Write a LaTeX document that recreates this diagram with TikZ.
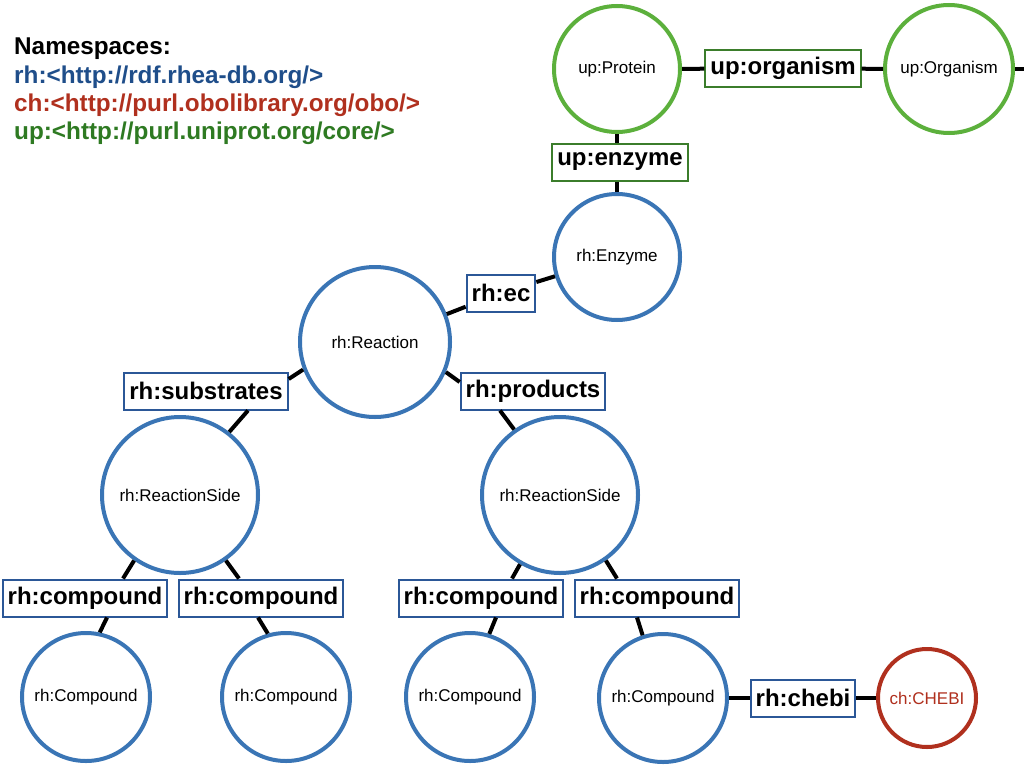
\documentclass[tikz,border=0pt]{standalone}
\usepackage{fontspec}
\setmainfont{Liberation Sans}
\definecolor{cblue}{HTML}{3A75B5}
\definecolor{bblue}{HTML}{2B5797}
\definecolor{tblue}{HTML}{1F4E8A}
\definecolor{cred}{HTML}{B0301E}
\definecolor{cgreen}{HTML}{5CB03C}
\definecolor{bgreen}{HTML}{3B7D2B}
\definecolor{tgreen}{HTML}{2E7A22}
\tikzset{
  cls/.style={circle, draw=cblue, line width=4pt, fill=white, inner sep=0pt,
    font=\fontsize{17}{20}\selectfont},
  gcls/.style={cls, draw=cgreen},
  rcls/.style={cls, draw=cred, text=cred},
  prop/.style={rectangle, draw=bblue, line width=2pt, fill=white, inner xsep=5pt,
    minimum height=37pt, font=\fontsize{24}{28}\selectfont\bfseries},
  gprop/.style={prop, draw=bgreen},
  link/.style={line width=4pt, black},
  ns/.style={anchor=base west, inner sep=0pt, font=\fontsize{24.3}{28}\selectfont\bfseries}
}
\begin{document}
\begin{tikzpicture}[x=1pt,y=-1pt]
\useasboundingbox (0,0) rectangle (1024,768);
% namespaces
\node[ns] (nsh) at (14,55) {Namespaces:};
\node[ns, text=tblue] (nsrh) at (14,83) {rh:<http://rdf.rhea-db.org/>};
\node[ns, text=cred] (nsch) at (14,111) {ch:<http://purl.obolibrary.org/obo/>};
\node[ns, text=tgreen] (nsup) at (14,139) {up:<http://purl.uniprot.org/core/>};
% classes
\node[gcls, minimum size=126pt] (prot) at (617,69) {up:Protein};
\node[gcls, minimum size=128pt] (org) at (949,69) {up:Organism};
\node[cls, minimum size=126pt] (enz) at (617,257) {rh:Enzyme};
\node[cls, minimum size=150pt] (rea) at (375,342) {rh:Reaction};
\node[cls, minimum size=156pt] (rsl) at (180,495) {rh:ReactionSide};
\node[cls, minimum size=156pt] (rsr) at (560,495) {rh:ReactionSide};
\node[cls, minimum size=128pt] (c1) at (86,697) {rh:Compound};
\node[cls, minimum size=128pt] (c2) at (286,697) {rh:Compound};
\node[cls, minimum size=128pt] (c3) at (470,697) {rh:Compound};
\node[cls, minimum size=128pt] (c4) at (663,698) {rh:Compound};
\node[rcls, minimum size=98pt] (chebi) at (927,698) {ch:CHEBI};
\coordinate (edge) at (1024,69);
% properties
\node[gprop] (porg) at (783,68.5) {up:organism};
\node[gprop] (penz) at (620,162) {up:enzyme};
\node[prop] (pec) at (501,293) {rh:ec};
\node[prop] (psub) at (206,391) {rh:substrates};
\node[prop] (pprod) at (533,391) {rh:products};
\node[prop] (pc1) at (85,598) {rh:compound};
\node[prop] (pc2) at (261,598) {rh:compound};
\node[prop] (pc3) at (481,598) {rh:compound};
\node[prop] (pc4) at (657,598) {rh:compound};
\node[prop] (pch) at (803,698) {rh:chebi};
% connectors
\draw[link] (prot) -- (porg);
\draw[link] (porg) -- (org);
\draw[link] (org) -- (edge);
\draw[link] (prot.south) -- (prot.south |- penz.north);
\draw[link] (penz.south -| enz.north) -- (enz.north);
\draw[link] (enz) -- (pec);
\draw[link] (pec) -- (rea);
\draw[link] (rea.201) -- ([yshift=12pt]psub.east);
\draw[link] ([xshift=42pt]psub.south) -- (rsl.52);
\draw[link] (rea.337) -- ([yshift=9pt]pprod.west);
\draw[link] ([xshift=-33pt]pprod.south) -- (rsr.125);
\draw[link] (rsl.235) -- ([xshift=38pt]pc1.north);
\draw[link] ([xshift=22pt]pc1.south) -- (c1.78);
\draw[link] (rsl.305) -- ([xshift=-22pt]pc2.north);
\draw[link] ([xshift=-3pt]pc2.south) -- (c2.106);
\draw[link] (rsr.240) -- ([xshift=31pt]pc3.north);
\draw[link] ([xshift=15pt]pc3.south) -- (c3.73);
\draw[link] (rsr.305) -- ([xshift=-40pt]pc4.north);
\draw[link] ([xshift=-20pt]pc4.south) -- (c4.108);
\draw[link] (c4) -- (pch);
\draw[link] (pch) -- (chebi);
\end{tikzpicture}
\end{document}
